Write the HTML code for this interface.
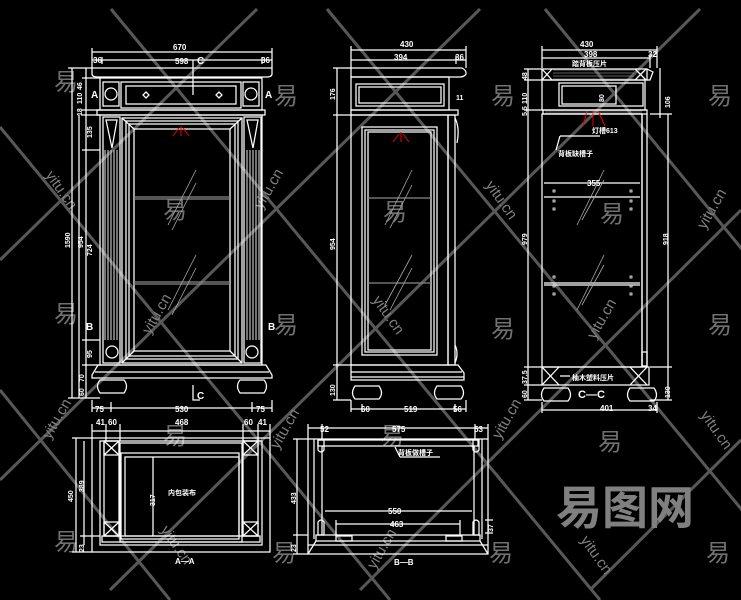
<!DOCTYPE html>
<html><head><meta charset="utf-8"><style>
html,body{margin:0;padding:0;background:#000;}
svg{display:block}
text{font-family:"Liberation Sans","Noto Sans CJK SC",sans-serif;fill:#fff}
</style></head><body>
<svg width="741" height="600" viewBox="0 0 741 600" xmlns="http://www.w3.org/2000/svg">
<rect width="741" height="600" fill="#000"/>
<g stroke="#b0b0b0" stroke-width="3" opacity="0.5" fill="none">
<line x1="111" y1="9" x2="600" y2="600"/>
<line x1="327" y1="9" x2="800" y2="580"/>
<line x1="545" y1="9" x2="800" y2="320"/>
<line x1="0" y1="127" x2="390" y2="600"/>
<line x1="0" y1="390" x2="170" y2="600"/>
<line x1="257" y1="9" x2="0" y2="260"/>
<line x1="480" y1="9" x2="0" y2="480"/>
<line x1="700" y1="9" x2="110" y2="590"/>
<line x1="741" y1="210" x2="360" y2="590"/>
<line x1="741" y1="440" x2="590" y2="590"/>
</g>
<g font-size="24">
<text x="54" y="90" style="fill:#707070">易</text><text x="274" y="104" style="fill:#707070">易</text>
<text x="163" y="218" style="fill:#707070">易</text><text x="54" y="322" style="fill:#707070">易</text>
<text x="274" y="333" style="fill:#707070">易</text><text x="383" y="220" style="fill:#707070">易</text>
<text x="491" y="104" style="fill:#707070">易</text><text x="600" y="222" style="fill:#707070">易</text>
<text x="491" y="337" style="fill:#707070">易</text><text x="708" y="104" style="fill:#707070">易</text>
<text x="708" y="333" style="fill:#707070">易</text><text x="163" y="444" style="fill:#707070">易</text>
<text x="54" y="550" style="fill:#707070">易</text><text x="272" y="561" style="fill:#707070">易</text>
<text x="380" y="444" style="fill:#707070">易</text><text x="489" y="561" style="fill:#707070">易</text>
<text x="598" y="450" style="fill:#707070">易</text><text x="706" y="561" style="fill:#707070">易</text>
</g>
<g font-size="15">
<text transform="translate(45,175) rotate(55)" style="fill:#808080">yitu.cn</text>
<text transform="translate(262,210) rotate(-60)" style="fill:#808080">yitu.cn</text>
<text transform="translate(150,335) rotate(-60)" style="fill:#808080">yitu.cn</text>
<text transform="translate(372,300) rotate(55)" style="fill:#808080">yitu.cn</text>
<text transform="translate(485,185) rotate(55)" style="fill:#808080">yitu.cn</text>
<text transform="translate(705,230) rotate(-60)" style="fill:#808080">yitu.cn</text>
<text transform="translate(595,340) rotate(-60)" style="fill:#808080">yitu.cn</text>
<text transform="translate(50,440) rotate(-60)" style="fill:#808080">yitu.cn</text>
<text transform="translate(278,450) rotate(-60)" style="fill:#808080">yitu.cn</text>
<text transform="translate(160,530) rotate(55)" style="fill:#808080">yitu.cn</text>
<text transform="translate(375,570) rotate(-60)" style="fill:#808080">yitu.cn</text>
<text transform="translate(500,440) rotate(-60)" style="fill:#808080">yitu.cn</text>
<text transform="translate(580,540) rotate(55)" style="fill:#808080">yitu.cn</text>
<text transform="translate(700,415) rotate(55)" style="fill:#808080">yitu.cn</text>
</g>
<text x="556" y="524" font-size="46" font-weight="bold" style="fill:#808080;font-family:'Noto Sans CJK SC',sans-serif">易图网</text>

<g stroke="#fff" stroke-width="1.25" fill="none">
<line x1="92" y1="52" x2="272" y2="52"/><line x1="92" y1="60" x2="272" y2="60"/>
<line x1="92" y1="48" x2="92" y2="68"/><line x1="272" y1="48" x2="272" y2="68"/>
<line x1="102" y1="57" x2="102" y2="64"/><line x1="262" y1="57" x2="262" y2="64"/>
<path d="M92 68 H272 V74 Q272 77 266 77 H98 Q92 77 92 74 Z"/>
<rect x="100" y="78" width="162" height="32"/>
<rect x="121" y="82" width="120" height="26"/><rect x="126" y="86" width="110" height="18"/>
<rect x="103" y="82" width="16" height="24"/><rect x="243" y="82" width="16" height="24"/>
<circle cx="111" cy="94" r="6"/><circle cx="251" cy="94" r="6"/>
<path d="M143 95 l3 -3 l3 3 l-3 3z M216 95 l3 -3 l3 3 l-3 3z"/>
<rect x="97" y="110" width="168" height="5"/>
<rect x="100" y="115" width="162" height="250"/>
<rect x="103" y="117" width="17" height="246"/><rect x="244" y="117" width="17" height="246"/>
<path d="M106 120 h11 l-5 28 z M247 120 h11 l-5 28 z"/>
<g stroke-width="0.9">
<line x1="105" y1="150" x2="105" y2="340"/><line x1="108" y1="150" x2="108" y2="340"/><line x1="111" y1="150" x2="111" y2="340"/><line x1="114" y1="150" x2="114" y2="340"/><line x1="117" y1="150" x2="117" y2="340"/>
<line x1="247" y1="150" x2="247" y2="340"/><line x1="250" y1="150" x2="250" y2="340"/><line x1="253" y1="150" x2="253" y2="340"/><line x1="256" y1="150" x2="256" y2="340"/><line x1="259" y1="150" x2="259" y2="340"/>
</g>
<circle cx="112" cy="352" r="6"/><circle cx="252" cy="352" r="6"/>
<rect x="122" y="118" width="120" height="245"/>
<rect x="126" y="121" width="112" height="238"/>
<rect x="129" y="124" width="106" height="232"/>
<rect x="134" y="129" width="96" height="222"/>
<line x1="122" y1="118" x2="134" y2="129"/><line x1="242" y1="118" x2="230" y2="129"/>
<line x1="122" y1="363" x2="134" y2="351"/><line x1="242" y1="363" x2="230" y2="351"/>
<line x1="134" y1="197" x2="230" y2="197" stroke="#888"/><line x1="134" y1="199" x2="230" y2="199" stroke="#888"/>
<line x1="134" y1="282" x2="230" y2="282" stroke="#888"/><line x1="134" y1="284" x2="230" y2="284" stroke="#888"/>
<g stroke="#aaa" stroke-width="0.8"><line x1="168" y1="225" x2="196" y2="170"/><line x1="172" y1="230" x2="196" y2="183"/><line x1="168" y1="310" x2="196" y2="255"/><line x1="172" y1="315" x2="196" y2="268"/></g>
<path d="M98 365 H266 L272 375 V378 H92 V375 Z"/><line x1="95" y1="372" x2="269" y2="372"/>
<path d="M100 380 h24 q5 6 0 13 h-24 q-5 -7 0 -13z M240 380 h24 q5 6 0 13 h-24 q-5 -7 0 -13z"/>
<line x1="92" y1="408" x2="272" y2="408"/><line x1="92" y1="400" x2="92" y2="412"/><line x1="272" y1="400" x2="272" y2="412"/>
<line x1="111" y1="402" x2="111" y2="412"/><line x1="252" y1="402" x2="252" y2="412"/>
<line x1="72" y1="68" x2="72" y2="398"/><line x1="79" y1="115" x2="79" y2="398"/><line x1="86" y1="68" x2="86" y2="398"/>
<line x1="68" y1="68" x2="92" y2="68"/><line x1="68" y1="398" x2="100" y2="398"/>
<line x1="82" y1="78" x2="100" y2="78"/><line x1="82" y1="110" x2="100" y2="110"/><line x1="82" y1="115" x2="100" y2="115"/>
<line x1="82" y1="150" x2="100" y2="150"/><line x1="82" y1="340" x2="100" y2="340"/><line x1="82" y1="365" x2="100" y2="365"/>
<polyline points="193,60 193,95"/><polyline points="193,385 193,400 200,400"/>

<line x1="351" y1="50" x2="466" y2="50"/><line x1="351" y1="60" x2="466" y2="60"/>
<line x1="351" y1="46" x2="351" y2="68"/><line x1="466" y1="46" x2="466" y2="68"/><line x1="456" y1="56" x2="456" y2="64"/>
<path d="M351 68 H462 Q466 70 466 73 V74 Q464 77 460 77 H351 Z"/>
<rect x="351" y="77" width="98" height="33"/>
<rect x="356" y="84" width="88" height="22"/><rect x="359" y="87" width="82" height="16"/>
<rect x="351" y="110" width="107" height="5"/>
<rect x="351" y="115" width="97" height="250"/><rect x="448" y="115" width="7" height="250"/>
<rect x="362" y="127" width="75" height="228"/><rect x="365" y="130" width="69" height="222"/><rect x="368" y="132" width="63" height="218"/>
<line x1="368" y1="198" x2="431" y2="198" stroke="#888"/><line x1="368" y1="283" x2="431" y2="283" stroke="#888"/>
<g stroke="#aaa" stroke-width="0.8"><line x1="385" y1="225" x2="412" y2="170"/><line x1="390" y1="228" x2="412" y2="185"/><line x1="385" y1="305" x2="412" y2="255"/><line x1="390" y1="310" x2="412" y2="268"/></g>
<path d="M455 118 q5 10 2 25"/><path d="M455 345 q4 8 0 18"/>
<path d="M351 365 H458 L464 373 V380 H351 Z"/><line x1="351" y1="372" x2="462" y2="372"/><line x1="351" y1="377" x2="464" y2="377"/>
<path d="M355 386 h24 q5 7 0 13 h-24 q-5 -6 0 -13z M437 386 h24 q5 7 0 13 h-24 q-5 -6 0 -13z"/>
<line x1="351" y1="409" x2="466" y2="409"/><line x1="351" y1="400" x2="351" y2="412"/><line x1="466" y1="400" x2="466" y2="412"/>
<line x1="362" y1="404" x2="362" y2="412"/><line x1="455" y1="404" x2="455" y2="412"/>
<line x1="337" y1="68" x2="337" y2="400"/><line x1="333" y1="68" x2="351" y2="68"/><line x1="333" y1="115" x2="351" y2="115"/><line x1="333" y1="365" x2="351" y2="365"/><line x1="333" y1="400" x2="351" y2="400"/>

<line x1="542" y1="50" x2="657" y2="50"/><line x1="542" y1="58" x2="650" y2="58"/>
<line x1="542" y1="46" x2="542" y2="68"/><line x1="657" y1="46" x2="657" y2="68"/><line x1="650" y1="54" x2="650" y2="68"/>
<rect x="542" y="69" width="105" height="11"/>
<path d="M647 69 L653 72 L650 80 H647"/>
<line x1="542" y1="69" x2="552" y2="80"/><line x1="552" y1="69" x2="542" y2="80"/>
<line x1="635" y1="69" x2="646" y2="80"/><line x1="646" y1="69" x2="635" y2="80"/>
<rect x="542" y="80" width="103" height="30"/>
<rect x="559" y="83" width="84" height="23"/><rect x="562" y="86" width="54" height="18"/>
<rect x="543" y="110" width="104" height="4"/>
<rect x="542" y="114" width="100" height="253"/><line x1="642" y1="114" x2="642" y2="367"/><line x1="647" y1="114" x2="647" y2="367"/>
<line x1="544" y1="183" x2="640" y2="183"/><line x1="544" y1="197" x2="640" y2="197"/>
<line x1="544" y1="283" x2="640" y2="283"/><line x1="544" y1="285" x2="640" y2="285"/>
<g stroke-width="0.8">
<rect x="553" y="190" width="2" height="2"/><rect x="553" y="200" width="2" height="2"/><rect x="553" y="208" width="2" height="2"/>
<rect x="630" y="190" width="2" height="2"/><rect x="630" y="200" width="2" height="2"/><rect x="630" y="208" width="2" height="2"/>
<rect x="553" y="276" width="2" height="2"/><rect x="553" y="285" width="2" height="2"/><rect x="553" y="293" width="2" height="2"/>
<rect x="630" y="276" width="2" height="2"/><rect x="630" y="285" width="2" height="2"/><rect x="630" y="293" width="2" height="2"/>
</g>
<g stroke="#aaa" stroke-width="0.8"><line x1="577" y1="225" x2="604" y2="170"/><line x1="582" y1="220" x2="604" y2="180"/><line x1="577" y1="310" x2="604" y2="255"/><line x1="582" y1="305" x2="604" y2="265"/></g>
<rect x="642" y="352" width="5" height="14"/>
<rect x="542" y="367" width="107" height="18"/>
<line x1="542" y1="367" x2="559" y2="385"/><line x1="559" y1="367" x2="542" y2="385"/>
<line x1="630" y1="367" x2="647" y2="385"/><line x1="647" y1="367" x2="630" y2="385"/>
<path d="M544 388 h24 q5 7 0 13 h-24 q-5 -6 0 -13z M630 388 h24 q5 7 0 13 h-24 q-5 -6 0 -13z"/>
<line x1="542" y1="410" x2="657" y2="410"/><line x1="542" y1="402" x2="542" y2="413"/><line x1="657" y1="402" x2="657" y2="413"/>
<line x1="528" y1="69" x2="528" y2="400"/><line x1="668" y1="114" x2="668" y2="400"/>
<line x1="524" y1="69" x2="542" y2="69"/><line x1="524" y1="80" x2="542" y2="80"/><line x1="524" y1="110" x2="542" y2="110"/><line x1="524" y1="367" x2="542" y2="367"/><line x1="524" y1="385" x2="542" y2="385"/><line x1="524" y1="400" x2="542" y2="400"/>
<line x1="650" y1="114" x2="672" y2="114"/><line x1="650" y1="367" x2="672" y2="367"/><line x1="650" y1="400" x2="672" y2="400"/>
<line x1="660" y1="68" x2="660" y2="118"/>
<line x1="560" y1="136" x2="556" y2="150"/><line x1="560" y1="136" x2="600" y2="136"/>
<line x1="560" y1="376" x2="570" y2="376"/>

<line x1="92" y1="431" x2="270" y2="431"/>
<line x1="92" y1="424" x2="92" y2="438"/><line x1="106" y1="424" x2="106" y2="441"/><line x1="120" y1="424" x2="120" y2="441"/>
<line x1="243" y1="424" x2="243" y2="441"/><line x1="258" y1="424" x2="258" y2="441"/><line x1="270" y1="424" x2="270" y2="438"/>
<rect x="92" y="438" width="178" height="114"/>
<rect x="100" y="441" width="162" height="104"/>
<rect x="104" y="441" width="15" height="95"/><rect x="243" y="441" width="15" height="95"/>
<rect x="104" y="441" width="15" height="14"/><line x1="104" y1="441" x2="119" y2="455"/><line x1="119" y1="441" x2="104" y2="455"/>
<rect x="243" y="441" width="15" height="14"/><line x1="243" y1="441" x2="258" y2="455"/><line x1="258" y1="441" x2="243" y2="455"/>
<rect x="104" y="522" width="15" height="14"/><line x1="104" y1="522" x2="119" y2="536"/><line x1="119" y1="522" x2="104" y2="536"/>
<rect x="243" y="522" width="15" height="14"/><line x1="243" y1="522" x2="258" y2="536"/><line x1="258" y1="522" x2="243" y2="536"/>
<rect x="120" y="443" width="122" height="99"/>
<rect x="121" y="453" width="118" height="86"/><rect x="125" y="457" width="114" height="79"/>
<rect x="102" y="536" width="158" height="6"/>
<line x1="153" y1="457" x2="153" y2="536"/>
<line x1="76" y1="438" x2="76" y2="552"/><line x1="84" y1="441" x2="84" y2="545"/>
<line x1="72" y1="438" x2="92" y2="438"/><line x1="72" y1="552" x2="92" y2="552"/><line x1="80" y1="536" x2="100" y2="536"/>

<line x1="308" y1="428" x2="488" y2="428"/>
<line x1="308" y1="424" x2="308" y2="439"/><line x1="322" y1="424" x2="322" y2="439"/><line x1="475" y1="424" x2="475" y2="439"/><line x1="488" y1="424" x2="488" y2="439"/>
<rect x="308" y="439" width="180" height="115"/>
<line x1="314" y1="439" x2="314" y2="539"/><line x1="482" y1="439" x2="482" y2="539"/>
<rect x="318" y="440" width="160" height="6"/>
<line x1="322" y1="446" x2="322" y2="535"/><line x1="474" y1="446" x2="474" y2="535"/>
<path d="M318 440 h6 v10 q-3 4 -6 0z M473 440 h6 v10 q-3 4 -6 0z M318 522 q3 -4 6 0 v13 h-6z M473 522 q3 -4 6 0 v13 h-6z"/>
<rect x="316" y="535" width="164" height="6"/>
<rect x="336" y="536" width="16" height="5"/><rect x="446" y="536" width="16" height="5"/>
<path d="M316 541 L308 554 M480 541 L488 554"/><line x1="308" y1="545" x2="488" y2="545"/>
<line x1="325" y1="511" x2="472" y2="511"/><line x1="336" y1="524" x2="460" y2="524"/>
<line x1="336" y1="520" x2="336" y2="535"/><line x1="460" y1="520" x2="460" y2="535"/>
<line x1="297" y1="439" x2="297" y2="554"/><line x1="293" y1="439" x2="308" y2="439"/><line x1="293" y1="554" x2="308" y2="554"/><line x1="293" y1="535" x2="308" y2="535"/>
<line x1="485" y1="520" x2="493" y2="520"/><line x1="485" y1="533" x2="493" y2="533"/>
<line x1="395" y1="447" x2="400" y2="457"/><line x1="400" y1="457" x2="440" y2="457"/>
</g>
<g stroke="#e00" stroke-width="1" fill="none">
<line x1="181" y1="126" x2="181" y2="136"/><line x1="179" y1="128" x2="173" y2="136"/><line x1="183" y1="128" x2="189" y2="136"/>
<line x1="401" y1="132" x2="401" y2="142"/><line x1="399" y1="134" x2="393" y2="142"/><line x1="403" y1="134" x2="409" y2="142"/>
<line x1="587" y1="111" x2="583" y2="126"/><line x1="593" y1="111" x2="593" y2="126"/><line x1="598" y1="111" x2="605" y2="126"/>
</g>
<g stroke="#bbb" stroke-width="0.6">
<line x1="553" y1="70" x2="634" y2="70"/><line x1="553" y1="73" x2="634" y2="73"/><line x1="553" y1="76" x2="634" y2="76"/><line x1="553" y1="79" x2="634" y2="79"/>
<line x1="545" y1="111" x2="642" y2="111"/><line x1="545" y1="113" x2="642" y2="113"/>
</g>

<g font-size="8" font-weight="bold">
<text x="173" y="50">670</text><text x="175" y="64">598</text><text x="197" y="64" font-size="10">C</text>
<text x="93" y="63">36</text><text x="261" y="63">36</text>
<text x="91" y="98" font-size="10">A</text><text x="265" y="98" font-size="10">A</text>
<text x="86" y="330" font-size="10">B</text><text x="268" y="330" font-size="10">B</text>
<text x="197" y="399" font-size="10">C</text>
<text x="95" y="412">75</text><text x="175" y="412">530</text><text x="256" y="412">75</text>
<text x="96" y="425">41</text><text x="108" y="425">60</text><text x="175" y="425">468</text><text x="244" y="425">60</text><text x="258" y="425">41</text>
<text x="175" y="564">A—A</text><text x="394" y="565">B—B</text>
<text x="400" y="47">430</text><text x="394" y="60">394</text><text x="455" y="60">36</text>
<text x="361" y="412">60</text><text x="404" y="412">519</text><text x="453" y="412">56</text>
<text x="580" y="47">430</text><text x="584" y="57">398</text><text x="648" y="57">32</text>
<text x="600" y="411">401</text><text x="648" y="411">34</text>
<text x="578" y="398" font-size="11">C—C</text>
<text x="320" y="432">52</text><text x="392" y="432">575</text><text x="474" y="432">53</text>
<text x="388" y="514">550</text><text x="390" y="527">463</text>
<text x="587" y="186">355</text>
</g>
<g font-size="7" font-weight="bold">
<text transform="translate(70,248) rotate(-90)">1590</text>
<text transform="translate(83,248) rotate(-90)">954</text>
<text transform="translate(92,256) rotate(-90)">724</text>
<text transform="translate(82,90) rotate(-90)">46</text>
<text transform="translate(82,104) rotate(-90)">110</text>
<text transform="translate(82,116) rotate(-90)">18</text>
<text transform="translate(92,138) rotate(-90)">135</text>
<text transform="translate(92,358) rotate(-90)">95</text>
<text transform="translate(84,382) rotate(-90)">70</text>
<text transform="translate(84,396) rotate(-90)">60</text>
<text transform="translate(335,100) rotate(-90)">176</text>
<text transform="translate(335,250) rotate(-90)">954</text>
<text transform="translate(335,396) rotate(-90)">130</text>
<text transform="translate(527,245) rotate(-90)">979</text>
<text transform="translate(668,245) rotate(-90)">918</text>
<text transform="translate(527,80) rotate(-90)">48</text>
<text transform="translate(527,104) rotate(-90)">110</text>
<text transform="translate(527,116) rotate(-90)">5.5</text>
<text transform="translate(527,384) rotate(-90)">37.5</text>
<text transform="translate(527,398) rotate(-90)">60</text>
<text transform="translate(670,398) rotate(-90)">130</text>
<text transform="translate(670,108) rotate(-90)">106</text>
<text transform="translate(604,102) rotate(-90)">80</text>
<text transform="translate(73,502) rotate(-90)">450</text>
<text transform="translate(84,492) rotate(-90)">389</text>
<text transform="translate(84,552) rotate(-90)">23</text>
<text transform="translate(155,506) rotate(-90)">317</text>
<text transform="translate(296,504) rotate(-90)">433</text>
<text transform="translate(296,552) rotate(-90)">23</text>
<text transform="translate(493,532) rotate(-90)">37</text>
<text x="456" y="100">11</text>
</g>
<g font-size="7" font-weight="bold">
<text x="572" y="66">踏背板压片</text>
<text x="592" y="133">灯槽613</text>
<text x="558" y="156">背板缺槽子</text>
<text x="572" y="380">柚木塑料压片</text>
<text x="398" y="455">背板做槽子</text>
<text x="168" y="495">内包装布</text>
</g>
</svg>
</body></html>
